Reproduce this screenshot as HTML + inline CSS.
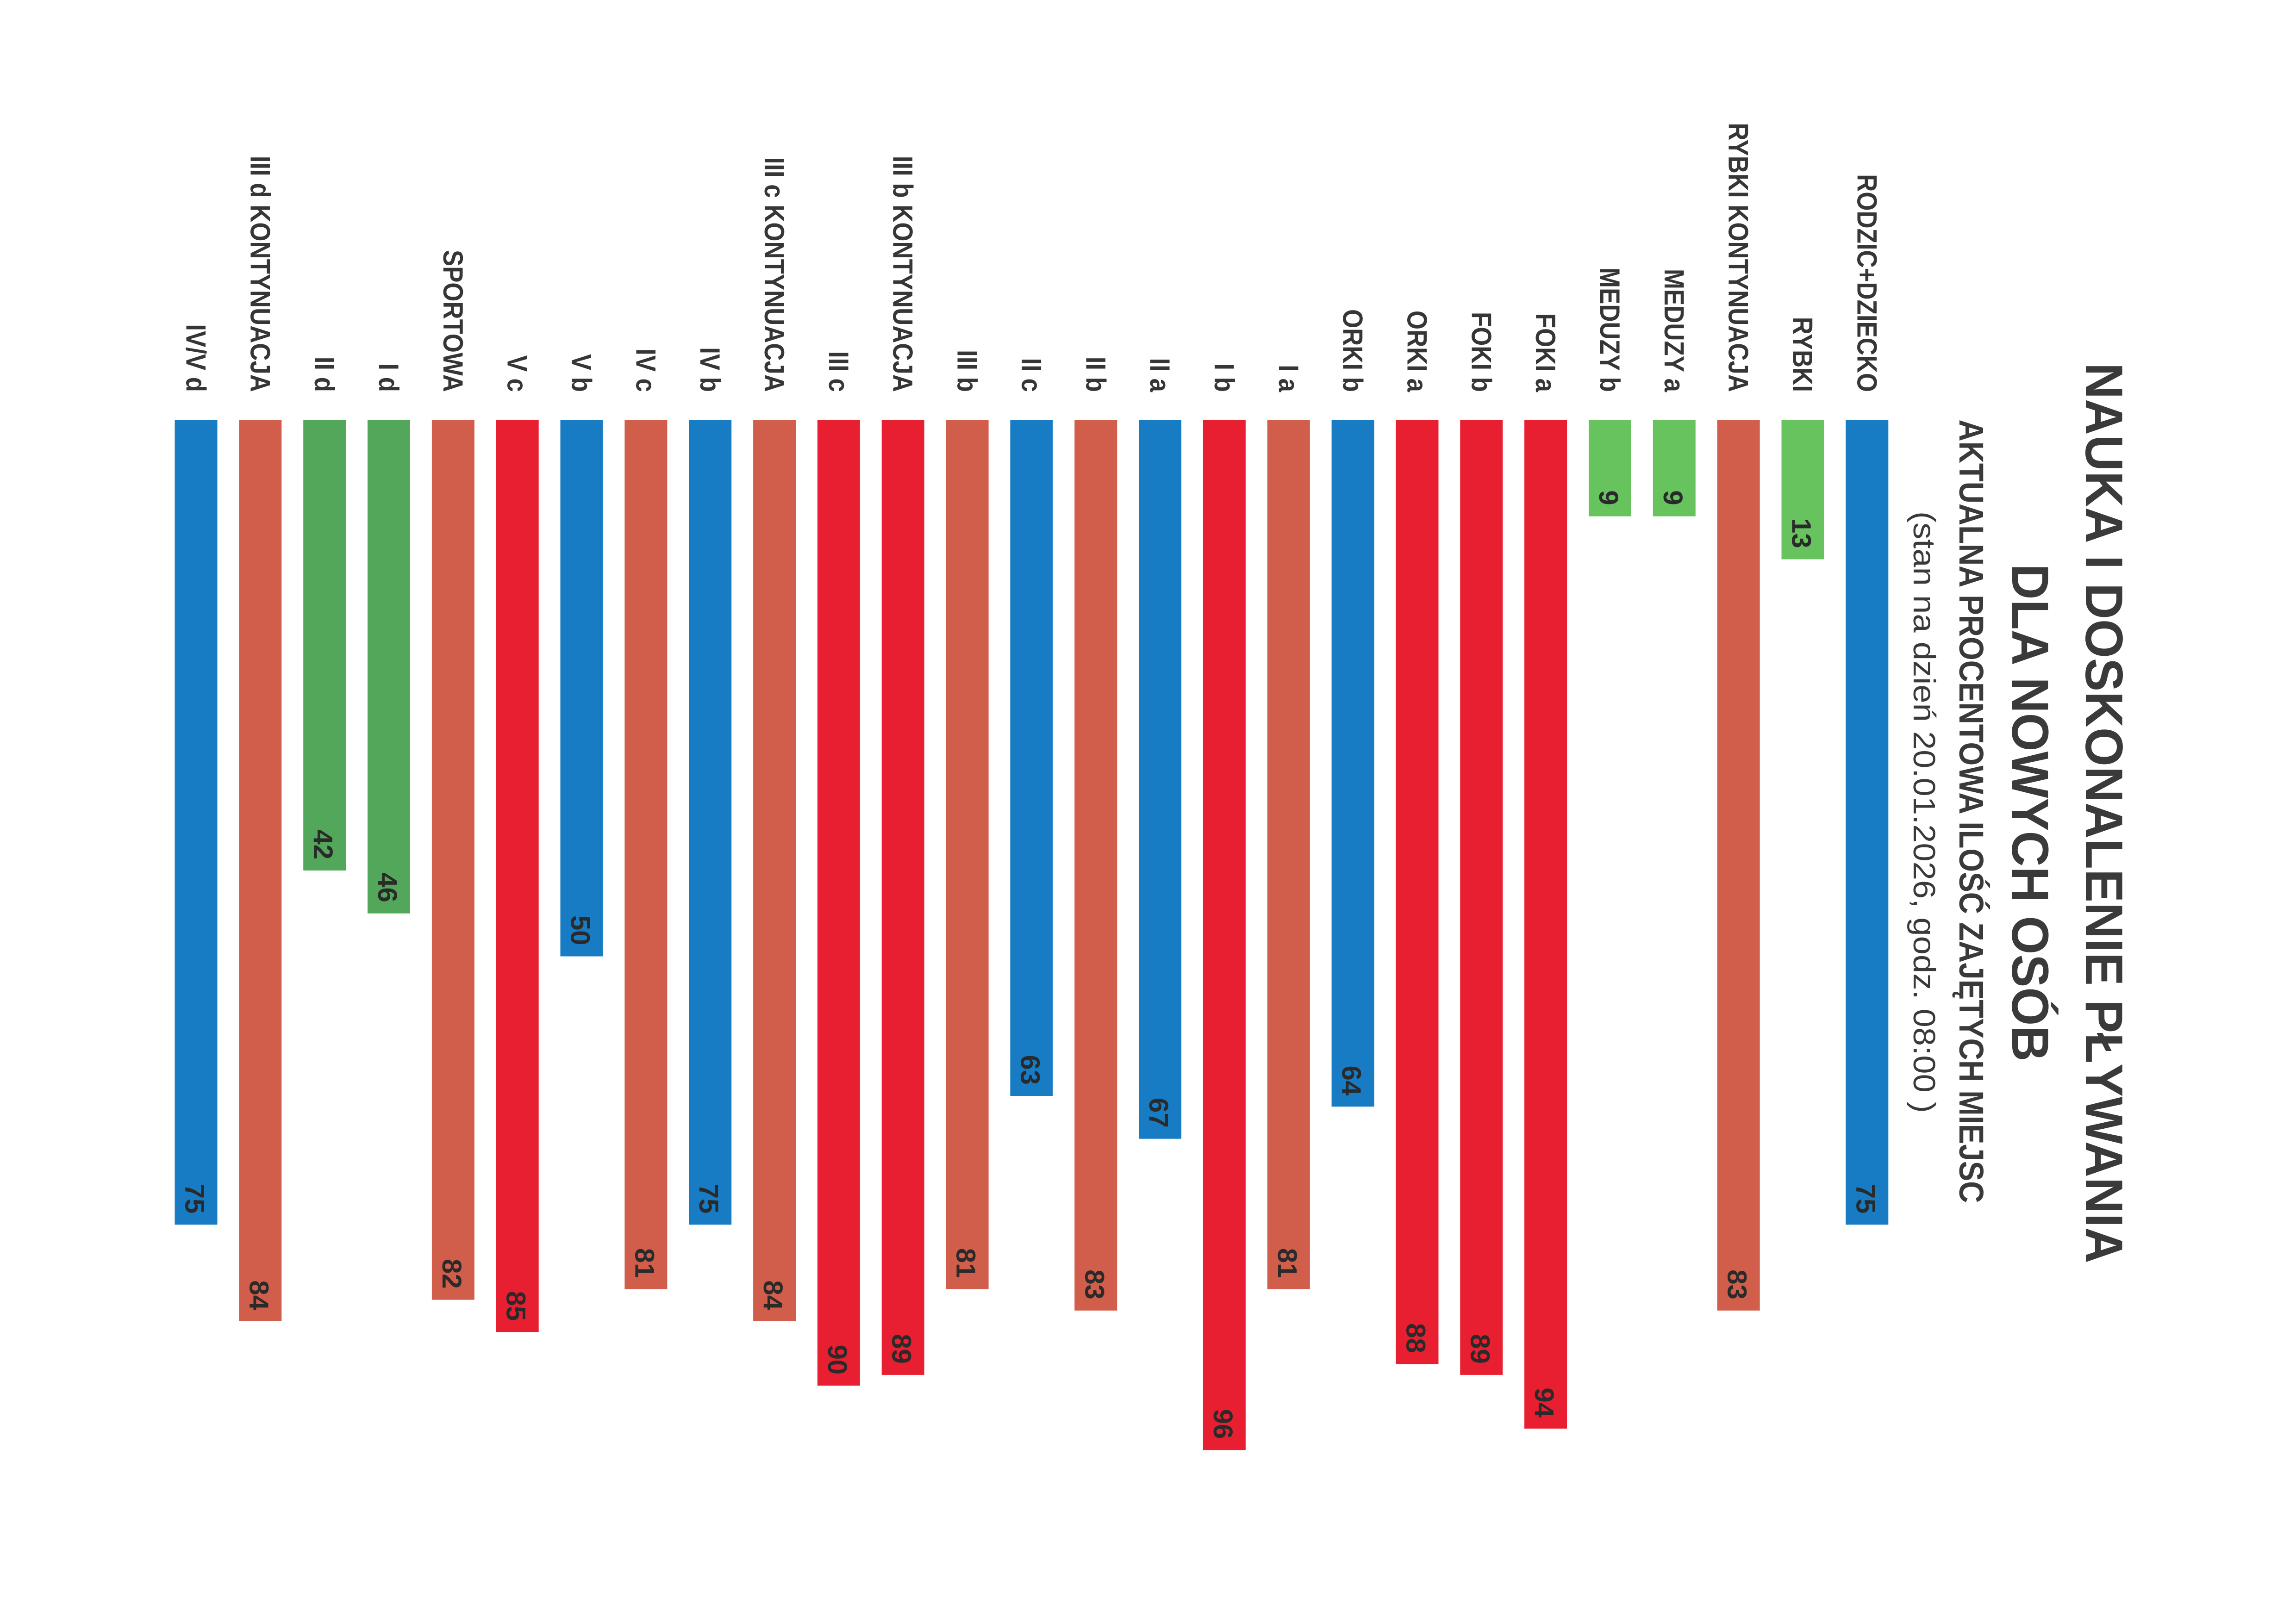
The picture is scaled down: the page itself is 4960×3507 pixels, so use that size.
<!DOCTYPE html>
<html>
<head>
<meta charset="utf-8">
<style>
html,body{margin:0;padding:0;background:#fff;}
svg{display:block;}
text{font-family:"Liberation Sans",Arial,sans-serif;}
.lb{font-weight:bold;font-size:60px;fill:#363636;}
.vl{font-weight:bold;font-size:58px;fill:#2a2a2a;}
</style>
</head>
<body>
<svg width="4960" height="3507" viewBox="0 0 4960 3507" xmlns="http://www.w3.org/2000/svg">
<rect width="4960" height="3507" fill="#ffffff"/>

<!-- Title -->
<text transform="translate(4506,1757) rotate(90)" text-anchor="middle" font-weight="bold" font-size="114" fill="#3a3a3a" textLength="1946" lengthAdjust="spacingAndGlyphs">NAUKA I DOSKONALENIE PŁYWANIA</text>
<text transform="translate(4347,1756) rotate(90)" text-anchor="middle" font-weight="bold" font-size="112" fill="#3a3a3a" textLength="1075" lengthAdjust="spacingAndGlyphs">DLA NOWYCH OSÓB</text>
<text transform="translate(4233,1753) rotate(90)" text-anchor="middle" font-weight="bold" font-size="74" fill="#3a3a3a" textLength="1693" lengthAdjust="spacingAndGlyphs">AKTUALNA PROCENTOWA ILOŚĆ ZAJĘTYCH MIEJSC</text>
<text transform="translate(4134,1755) rotate(90)" text-anchor="middle" font-size="67" fill="#3a3a3a" textLength="1300" lengthAdjust="spacingAndGlyphs">(stan na dzień 20.01.2026, godz. 08:00 )</text>

<!-- Bars -->
<g>
<rect x="377.5" y="907" width="92" height="1739.3" fill="#187cc4"/>
<rect x="516.3" y="907" width="92" height="1948.0" fill="#d15e4b"/>
<rect x="655.2" y="907" width="92" height="974.0" fill="#53a75b"/>
<rect x="794.0" y="907" width="92" height="1066.7" fill="#53a75b"/>
<rect x="932.9" y="907" width="92" height="1901.6" fill="#d15e4b"/>
<rect x="1071.7" y="907" width="92" height="1971.2" fill="#e81f30"/>
<rect x="1210.5" y="907" width="92" height="1159.5" fill="#187cc4"/>
<rect x="1349.4" y="907" width="92" height="1878.4" fill="#d15e4b"/>
<rect x="1488.2" y="907" width="92" height="1739.3" fill="#187cc4"/>
<rect x="1627.1" y="907" width="92" height="1948.0" fill="#d15e4b"/>
<rect x="1765.9" y="907" width="92" height="2087.1" fill="#e81f30"/>
<rect x="1904.7" y="907" width="92" height="2063.9" fill="#e81f30"/>
<rect x="2043.6" y="907" width="92" height="1878.4" fill="#d15e4b"/>
<rect x="2182.4" y="907" width="92" height="1461.0" fill="#187cc4"/>
<rect x="2321.3" y="907" width="92" height="1924.8" fill="#d15e4b"/>
<rect x="2460.1" y="907" width="92" height="1553.7" fill="#187cc4"/>
<rect x="2598.9" y="907" width="92" height="2226.2" fill="#e81f30"/>
<rect x="2737.8" y="907" width="92" height="1878.4" fill="#d15e4b"/>
<rect x="2876.6" y="907" width="92" height="1484.2" fill="#187cc4"/>
<rect x="3015.5" y="907" width="92" height="2040.7" fill="#e81f30"/>
<rect x="3154.3" y="907" width="92" height="2063.9" fill="#e81f30"/>
<rect x="3293.1" y="907" width="92" height="2179.9" fill="#e81f30"/>
<rect x="3432.0" y="907" width="92" height="208.7" fill="#67c35d"/>
<rect x="3570.8" y="907" width="92" height="208.7" fill="#67c35d"/>
<rect x="3709.7" y="907" width="92" height="1924.8" fill="#d15e4b"/>
<rect x="3848.5" y="907" width="92" height="301.5" fill="#67c35d"/>
<rect x="3987.3" y="907" width="92" height="1739.3" fill="#187cc4"/>
</g>

<!-- Category labels -->
<g class="lb">
<text class="lb" transform="translate(402.5,847) rotate(90) scale(0.88,1)" text-anchor="end">IV/V d</text>
<text class="lb" transform="translate(541.3,847) rotate(90) scale(0.88,1)" text-anchor="end">III d KONTYNUACJA</text>
<text class="lb" transform="translate(680.2,847) rotate(90) scale(0.88,1)" text-anchor="end">II d</text>
<text class="lb" transform="translate(819.0,847) rotate(90) scale(0.88,1)" text-anchor="end">I d</text>
<text class="lb" transform="translate(957.9,847) rotate(90) scale(0.88,1)" text-anchor="end">SPORTOWA</text>
<text class="lb" transform="translate(1096.7,847) rotate(90) scale(0.88,1)" text-anchor="end">V c</text>
<text class="lb" transform="translate(1235.5,847) rotate(90) scale(0.88,1)" text-anchor="end">V b</text>
<text class="lb" transform="translate(1374.4,847) rotate(90) scale(0.88,1)" text-anchor="end">IV c</text>
<text class="lb" transform="translate(1513.2,847) rotate(90) scale(0.88,1)" text-anchor="end">IV b</text>
<text class="lb" transform="translate(1652.1,847) rotate(90) scale(0.88,1)" text-anchor="end">III c KONTYNUACJA</text>
<text class="lb" transform="translate(1790.9,847) rotate(90) scale(0.88,1)" text-anchor="end">III c</text>
<text class="lb" transform="translate(1929.7,847) rotate(90) scale(0.88,1)" text-anchor="end">III b KONTYNUACJA</text>
<text class="lb" transform="translate(2068.6,847) rotate(90) scale(0.88,1)" text-anchor="end">III b</text>
<text class="lb" transform="translate(2207.4,847) rotate(90) scale(0.88,1)" text-anchor="end">II c</text>
<text class="lb" transform="translate(2346.3,847) rotate(90) scale(0.88,1)" text-anchor="end">II b</text>
<text class="lb" transform="translate(2485.1,847) rotate(90) scale(0.88,1)" text-anchor="end">II a</text>
<text class="lb" transform="translate(2623.9,847) rotate(90) scale(0.88,1)" text-anchor="end">I b</text>
<text class="lb" transform="translate(2762.8,847) rotate(90) scale(0.88,1)" text-anchor="end">I a</text>
<text class="lb" transform="translate(2901.6,847) rotate(90) scale(0.88,1)" text-anchor="end">ORKI b</text>
<text class="lb" transform="translate(3040.5,847) rotate(90) scale(0.88,1)" text-anchor="end">ORKI a</text>
<text class="lb" transform="translate(3179.3,847) rotate(90) scale(0.88,1)" text-anchor="end">FOKI b</text>
<text class="lb" transform="translate(3318.1,847) rotate(90) scale(0.88,1)" text-anchor="end">FOKI a</text>
<text class="lb" transform="translate(3457.0,847) rotate(90) scale(0.88,1)" text-anchor="end">MEDUZY b</text>
<text class="lb" transform="translate(3595.8,847) rotate(90) scale(0.88,1)" text-anchor="end">MEDUZY a</text>
<text class="lb" transform="translate(3734.7,847) rotate(90) scale(0.88,1)" text-anchor="end">RYBKI KONTYNUACJA</text>
<text class="lb" transform="translate(3873.5,847) rotate(90) scale(0.88,1)" text-anchor="end">RYBKI</text>
<text class="lb" transform="translate(4012.3,847) rotate(90) scale(0.88,1)" text-anchor="end">RODZIC+DZIECKO</text>
</g>

<!-- Value labels -->
<g>
<text class="vl" transform="translate(400.5,2622.3) rotate(90)" text-anchor="end">75</text>
<text class="vl" transform="translate(539.3,2831.0) rotate(90)" text-anchor="end">84</text>
<text class="vl" transform="translate(678.2,1857.0) rotate(90)" text-anchor="end">42</text>
<text class="vl" transform="translate(817.0,1949.7) rotate(90)" text-anchor="end">46</text>
<text class="vl" transform="translate(955.9,2784.6) rotate(90)" text-anchor="end">82</text>
<text class="vl" transform="translate(1094.7,2854.2) rotate(90)" text-anchor="end">85</text>
<text class="vl" transform="translate(1233.5,2042.5) rotate(90)" text-anchor="end">50</text>
<text class="vl" transform="translate(1372.4,2761.4) rotate(90)" text-anchor="end">81</text>
<text class="vl" transform="translate(1511.2,2622.3) rotate(90)" text-anchor="end">75</text>
<text class="vl" transform="translate(1650.1,2831.0) rotate(90)" text-anchor="end">84</text>
<text class="vl" transform="translate(1788.9,2970.1) rotate(90)" text-anchor="end">90</text>
<text class="vl" transform="translate(1927.7,2946.9) rotate(90)" text-anchor="end">89</text>
<text class="vl" transform="translate(2066.6,2761.4) rotate(90)" text-anchor="end">81</text>
<text class="vl" transform="translate(2205.4,2344.0) rotate(90)" text-anchor="end">63</text>
<text class="vl" transform="translate(2344.3,2807.8) rotate(90)" text-anchor="end">83</text>
<text class="vl" transform="translate(2483.1,2436.7) rotate(90)" text-anchor="end">67</text>
<text class="vl" transform="translate(2621.9,3109.2) rotate(90)" text-anchor="end">96</text>
<text class="vl" transform="translate(2760.8,2761.4) rotate(90)" text-anchor="end">81</text>
<text class="vl" transform="translate(2899.6,2367.2) rotate(90)" text-anchor="end">64</text>
<text class="vl" transform="translate(3038.5,2923.7) rotate(90)" text-anchor="end">88</text>
<text class="vl" transform="translate(3177.3,2946.9) rotate(90)" text-anchor="end">89</text>
<text class="vl" transform="translate(3316.1,3062.9) rotate(90)" text-anchor="end">94</text>
<text class="vl" transform="translate(3455.0,1091.7) rotate(90)" text-anchor="end">9</text>
<text class="vl" transform="translate(3593.8,1091.7) rotate(90)" text-anchor="end">9</text>
<text class="vl" transform="translate(3732.7,2807.8) rotate(90)" text-anchor="end">83</text>
<text class="vl" transform="translate(3871.5,1184.5) rotate(90)" text-anchor="end">13</text>
<text class="vl" transform="translate(4010.3,2622.3) rotate(90)" text-anchor="end">75</text>
</g>
</svg>
</body>
</html>
